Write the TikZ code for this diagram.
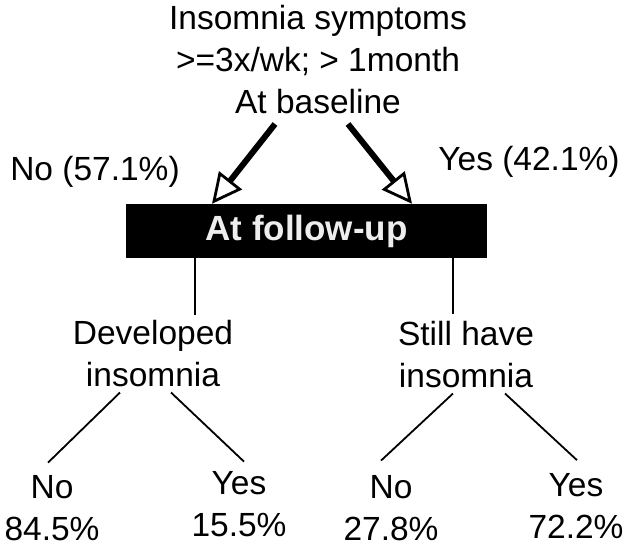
\documentclass[tikz,border=0pt]{standalone}
\usepackage{fontspec}
\setmainfont{Liberation Sans}
\usepackage{tikz}
\usetikzlibrary{arrows.meta}

\begin{document}
\begin{tikzpicture}[x=1pt, y=-1pt,
        txt/.style={inner sep=0pt, align=center, font=\fontsize{33.5}{42}\selectfont},
        link/.style={line width=1.8pt},
        arr/.style={line width=6pt, -{Triangle[open, length=30pt, width=29pt, line width=2.8pt]}}]
        \useasboundingbox (0,0) rectangle (629,552);

        % Baseline
        \node[txt] (base) at (318, 59.5) {Insomnia symptoms\\>=3x/wk; > 1month\\At baseline};
        \node[txt, anchor=base] (no) at (95, 180) {No (57.1\%)};
        \node[txt, anchor=base] (yes) at (529, 170) {Yes (42.1\%)};

        % Follow-up box
        \node[fill=black, text=white!93!black, minimum width=361pt, minimum height=54pt,
            font=\fontsize{35}{40}\selectfont\bfseries] (follow) at (306.5, 231) {At follow-up};

        \draw[arr] ([xshift=-43pt, yshift=-10pt]base.south) -- ([xshift=-94.5pt]follow.north);
        \draw[arr] ([xshift=30pt, yshift=-10pt]base.south) -- ([xshift=105.5pt]follow.north);

        % Two branches
        \node[txt] (dev) at (153, 354) {Developed\\insomnia};
        \node[txt] (still) at (466, 355) {Still have\\insomnia};
        \draw[link] ([xshift=-111.5pt]follow.south) -- ([xshift=42pt, yshift=6pt]dev.north);
        \draw[link] ([xshift=146.5pt]follow.south) -- ([xshift=-13pt, yshift=8pt]still.north);

        % Leaves
        \node[txt] (devno) at (52, 508.5) {No\\84.5\%};
        \node[txt] (devyes) at (239, 504.5) {Yes\\15.5\%};
        \node[txt] (stillno) at (391, 508.5) {No\\27.8\%};
        \node[txt] (stillyes) at (576, 506) {Yes\\72.2\%};

        \draw[link] ([xshift=-33pt, yshift=-5pt]dev.south) -- ([xshift=-4pt, yshift=13pt]devno.north);
        \draw[link] ([xshift=18pt, yshift=-5pt]dev.south) -- ([xshift=5pt, yshift=10pt]devyes.north);
        \draw[link] ([xshift=-13pt, yshift=-5pt]still.south) -- ([xshift=-10pt, yshift=15pt]stillno.north);
        \draw[link] ([xshift=39pt, yshift=-5pt]still.south) -- ([xshift=1pt, yshift=13pt]stillyes.north);
    \end{tikzpicture}
\end{document}
